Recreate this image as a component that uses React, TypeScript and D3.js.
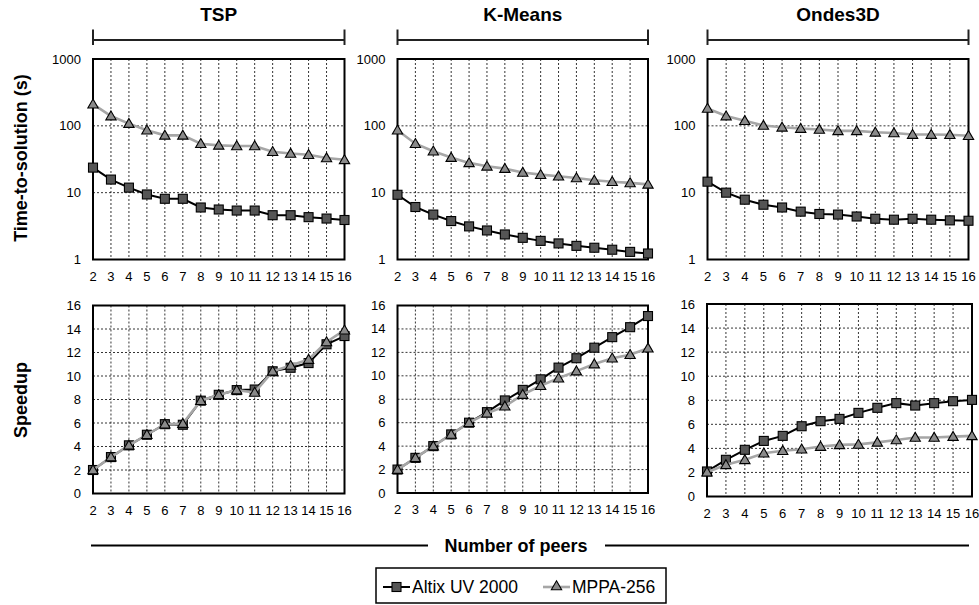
import React from "react";
import * as d3 from "d3";

const peers = [2, 3, 4, 5, 6, 7, 8, 9, 10, 11, 12, 13, 14, 15, 16];
const benchmarks = ["TSP", "K-Means", "Ondes3D"];
const seriesNames = ["Altix UV 2000", "MPPA-256"];

const tspAltixTime = [23.7, 15.7, 11.9, 9.4, 8.1, 8.1, 6.0, 5.6, 5.4, 5.4, 4.6, 4.6, 4.3, 4.1, 3.9];
const tspMppaTime = [211, 140, 108, 86, 72, 72, 54, 51, 50, 50, 41, 38.5, 37, 33, 31];
const kmAltixTime = [9.3, 6.1, 4.7, 3.76, 3.13, 2.72, 2.37, 2.11, 1.9, 1.74, 1.6, 1.5, 1.4, 1.3, 1.23];
const kmMppaTime = [86, 54, 41.7, 33.5, 27.9, 24.8, 22.9, 20, 18.6, 17.6, 16.6, 15.3, 14.6, 14, 13.3];
const ondAltixTime = [14.6, 10, 7.85, 6.6, 6.0, 5.2, 4.8, 4.7, 4.4, 4.07, 3.94, 4.07, 3.94, 3.85, 3.8];
const ondMppaTime = [182, 140, 119, 101, 95, 91, 88, 84, 84, 80, 78, 74, 74, 73.5, 71];

const tspAltixSpeedup = [2, 3.1, 4.1, 5.0, 5.9, 5.85, 7.9, 8.4, 8.8, 8.85, 10.4, 10.7, 11.1, 12.7, 13.4];
const tspMppaSpeedup = [2, 3.1, 4.1, 5.0, 5.9, 5.95, 7.9, 8.4, 8.8, 8.6, 10.4, 10.9, 11.4, 12.9, 13.9];
const kmAltixSpeedup = [2, 3, 4, 5, 6, 6.9, 7.9, 8.8, 9.7, 10.7, 11.5, 12.4, 13.3, 14.15, 15.1];
const kmMppaSpeedup = [2, 3, 4, 5, 6, 6.8, 7.4, 8.4, 9.15, 9.8, 10.4, 11.0, 11.5, 11.8, 12.35];
const ondAltixSpeedup = [2.08, 3.05, 3.88, 4.62, 5.04, 5.84, 6.26, 6.45, 6.95, 7.37, 7.76, 7.56, 7.76, 7.92, 8.03];
const ondMppaSpeedup = [2.02, 2.63, 3.05, 3.6, 3.8, 3.93, 4.15, 4.29, 4.33, 4.5, 4.7, 4.9, 4.9, 4.98, 5.04];

const timeTicks = [1, 10, 100, 1000];
const speedupTicks = [0, 2, 4, 6, 8, 10, 12, 14, 16];

const timeData = [
  [tspAltixTime, tspMppaTime],
  [kmAltixTime, kmMppaTime],
  [ondAltixTime, ondMppaTime],
];
const speedupData = [
  [tspAltixSpeedup, tspMppaSpeedup],
  [kmAltixSpeedup, kmMppaSpeedup],
  [ondAltixSpeedup, ondMppaSpeedup],
];

// layout
const topBoxes = [
  { x0: 93, x1: 344.5, y0: 59, y1: 259.5 },
  { x0: 397.5, x1: 648, y0: 59, y1: 259.5 },
  { x0: 707.5, x1: 968.5, y0: 59, y1: 259.5 },
];
const botBoxes = [
  { x0: 93, x1: 344.5, y0: 305.5, y1: 493.5 },
  { x0: 397.5, x1: 648, y0: 305.5, y1: 493 },
  { x0: 707, x1: 972, y0: 304, y1: 496.5 },
];

const FONT = "'Liberation Sans', Arial, Helvetica, sans-serif";
const ALTIX_LINE = "#000";
const MPPA_LINE = "#a6a6a6";
const SQ_FILL = "#555";
const TRI_FILL = "#8a8a8a";

const triPath = d3.symbol(d3.symbolTriangle, 46)() as string;

function Markers({ pts, kind }: { pts: [number, number][]; kind: number }) {
  return (
    <g>
      {pts.map(([x, y], i) =>
        kind === 0 ? (
          <rect key={i} x={x - 4.5} y={y - 4.5} width={9} height={9} fill={SQ_FILL} stroke="#000" strokeWidth={1.1} />
        ) : (
          <path key={i} d={triPath} transform={`translate(${x},${y + 0.8})`} fill={TRI_FILL} stroke="#000" strokeWidth={1.1} />
        )
      )}
    </g>
  );
}

function Panel({ box, log, series }: { box: any; log: boolean; series: number[][] }) {
  const x = d3.scaleLinear().domain([2, 16]).range([box.x0, box.x1]);
  const y = log
    ? d3.scaleLog().domain([1, 1000]).range([box.y1, box.y0])
    : d3.scaleLinear().domain([0, 16]).range([box.y1, box.y0]);
  const ticks = log ? timeTicks : speedupTicks;
  const line = d3
    .line<number>()
    .x((_, i) => x(peers[i]))
    .y((v) => y(v));
  const order = [0, 1];
  return (
    <g>
      {peers.slice(1, -1).map((p) => (
        <line key={"v" + p} x1={x(p)} x2={x(p)} y1={box.y0} y2={box.y1} stroke="#000" strokeWidth={0.8} strokeDasharray="2,2" />
      ))}
      {ticks.slice(1, -1).map((t) => (
        <line key={"h" + t} x1={box.x0} x2={box.x1} y1={y(t)} y2={y(t)} stroke="#000" strokeWidth={0.8} strokeDasharray="2,2" />
      ))}
      <rect x={box.x0} y={box.y0} width={box.x1 - box.x0} height={box.y1 - box.y0} fill="none" stroke="#000" strokeWidth={2} />
      {ticks.map((t) => (
        <text key={"yt" + t} x={box.x0 - 12} y={y(t) + 4.5} textAnchor="end" fontSize={13} fontFamily={FONT} fill="#000">
          {t}
        </text>
      ))}
      {peers.map((p) => (
        <text key={"xt" + p} x={x(p)} y={box.y1 + 21} textAnchor="middle" fontSize={13} fontFamily={FONT} fill="#000">
          {p}
        </text>
      ))}
      {order.map((k) => (
        <g key={"s" + k}>
          <path d={line(series[k]) as string} fill="none" stroke={k === 0 ? ALTIX_LINE : MPPA_LINE} strokeWidth={k === 0 ? 2 : 2.6} />
          <Markers kind={k} pts={series[k].map((v, i) => [x(peers[i]), y(v)] as [number, number])} />
        </g>
      ))}
    </g>
  );
}

export default function App() {
  return (
    <svg width={979} height={605} style={{ position: "absolute", left: 0, top: 0, background: "#fff" }}>
      <rect width={979} height={605} fill="#fff" />
      {benchmarks.map((b, i) => {
        const bx = topBoxes[i];
        const cx = (bx.x0 + bx.x1) / 2;
        return (
          <g key={b}>
            <text x={cx} y={20.5} textAnchor="middle" fontSize={19} fontWeight="bold" fontFamily={FONT}>
              {b}
            </text>
            <line x1={bx.x0} x2={bx.x1} y1={40} y2={40} stroke="#222" strokeWidth={2} />
            <line x1={bx.x0} x2={bx.x0} y1={29.5} y2={45} stroke="#222" strokeWidth={2} />
            <line x1={bx.x1} x2={bx.x1} y1={29.5} y2={45} stroke="#222" strokeWidth={2} />
          </g>
        );
      })}
      {benchmarks.map((b, i) => (
        <Panel key={"t" + b} box={topBoxes[i]} log={true} series={timeData[i]} />
      ))}
      {benchmarks.map((b, i) => (
        <Panel key={"b" + b} box={botBoxes[i]} log={false} series={speedupData[i]} />
      ))}
      <text transform="translate(26.5,158) rotate(-90)" textAnchor="middle" fontSize={18} fontWeight="bold" fontFamily={FONT}>
        Time-to-solution (s)
      </text>
      <text transform="translate(26.5,400) rotate(-90)" textAnchor="middle" fontSize={18} fontWeight="bold" fontFamily={FONT}>
        Speedup
      </text>
      <line x1={91} x2={428} y1={545.5} y2={545.5} stroke="#000" strokeWidth={2} />
      <line x1={605} x2={969} y1={545.5} y2={545.5} stroke="#000" strokeWidth={2} />
      <text x={516} y={552} textAnchor="middle" fontSize={18} fontWeight="bold" fontFamily={FONT}>
        Number of peers
      </text>
      <rect x={376} y={568} width={290} height={35} fill="#fff" stroke="#000" strokeWidth={1.5} />
      <line x1={383} x2={410} y1={587} y2={587} stroke={ALTIX_LINE} strokeWidth={2} />
      <Markers kind={0} pts={[[396.5, 587]]} />
      <text x={412} y={593} fontSize={17.5} fontFamily={FONT}>
        {seriesNames[0]}
      </text>
      <line x1={543} x2={570} y1={587} y2={587} stroke={MPPA_LINE} strokeWidth={2.6} />
      <Markers kind={1} pts={[[556.5, 586]]} />
      <text x={572} y={593} fontSize={17.5} fontFamily={FONT}>
        {seriesNames[1]}
      </text>
    </svg>
  );
}
